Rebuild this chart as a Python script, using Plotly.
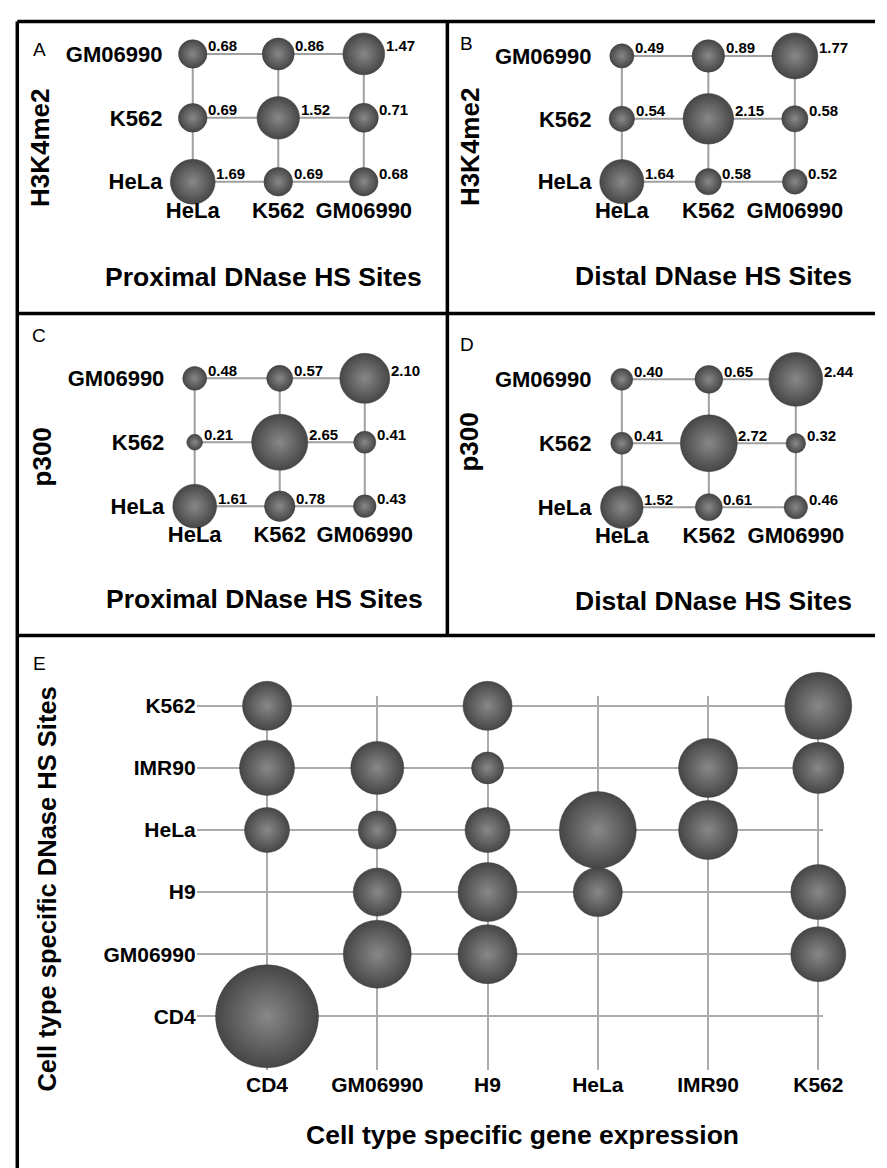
import numpy as np
import plotly.graph_objects as go

W, H = 887, 1168

# ---------------- DATA ----------------
cells3 = ["HeLa", "K562", "GM06990"]  # columns (DNase HS sites) and rows (marks), bottom->top

# values[row][col]; rows: HeLa, K562, GM06990 ; cols: HeLa, K562, GM06990
A_vals = [[1.69, 0.69, 0.68],
          [0.69, 1.52, 0.71],
          [0.68, 0.86, 1.47]]
B_vals = [[1.64, 0.58, 0.52],
          [0.54, 2.15, 0.58],
          [0.49, 0.89, 1.77]]
C_vals = [[1.61, 0.78, 0.43],
          [0.21, 2.65, 0.41],
          [0.48, 0.57, 2.10]]
D_vals = [[1.52, 0.61, 0.46],
          [0.41, 2.72, 0.32],
          [0.40, 0.65, 2.44]]

E_expr_cats = ["CD4", "GM06990", "H9", "HeLa", "IMR90", "K562"]
E_dhs_cats = ["CD4", "GM06990", "H9", "HeLa", "IMR90", "K562"]
E_expr = ["CD4", "CD4", "CD4", "CD4",
          "GM06990", "GM06990", "GM06990", "GM06990",
          "H9", "H9", "H9", "H9", "H9",
          "HeLa", "HeLa",
          "IMR90", "IMR90",
          "K562", "K562", "K562", "K562"]
E_dhs = ["K562", "IMR90", "HeLa", "CD4",
         "IMR90", "HeLa", "H9", "GM06990",
         "K562", "IMR90", "HeLa", "H9", "GM06990",
         "HeLa", "H9",
         "IMR90", "HeLa",
         "K562", "IMR90", "H9", "GM06990"]
E_vals = [2.02, 2.54, 1.70, 8.91,
          2.36, 1.21, 1.94, 3.88,
          2.02, 0.86, 1.70, 2.92, 2.92,
          4.98, 2.02,
          2.92, 2.92,
          3.77, 2.19, 2.54, 2.54]

# ---------------- STYLE ----------------
FONT = "Liberation Sans, Arial, sans-serif"
K = 34.5                       # px diameter per sqrt(value)
SIZEREF = 2.0 / K ** 2         # plotly area mode: diameter = sqrt(2*v/sizeref)
BUB_EDGE = "#464646"
BUB_CENTER = "#888888"
LINE_C = "#a0a0a0"

def fx(x):
    return x / W

def fy(y):
    return 1 - y / H

fig = go.Figure()
annotations = []

panels = [
    ("A", A_vals, 189, 364, 172, 44, "H3K4me2", "Proximal DNase HS Sites", (261.5, 267), (32, 138), (32, 40)),
    ("B", B_vals, 628, 805, 172, 46, "H3K4me2", "Distal DNase HS Sites", (722, 266), (472, 137), (469, 34)),
    ("C", C_vals, 191, 365, 497, 369, "p300", "Proximal DNase HS Sites", (262, 590), (35, 448), (32, 326)),
    ("D", D_vals, 628, 806, 498, 370, "p300", "Distal DNase HS Sites", (722, 592), (472, 433), (470, 335)),
]

layout_axes = {}
for i, (name, vals, c0, c2, rb, rt, ytit, xtit, tpos, ypos, lpos) in enumerate(panels):
    n = i + 1
    xa = "x" if n == 1 else f"x{n}"
    ya = "y" if n == 1 else f"y{n}"
    dx = (c2 - c0) / 2.0
    dy = (rb - rt) / 2.0
    left, right = c0 - 30, c2 + 30
    bottom, top = rb + 13, rt - 26
    layout_axes[f"xaxis{n}"] = dict(
        domain=[fx(left), fx(right)], range=[(left - c0) / dx, 2 + (right - c2) / dx],
        type="category", categoryorder="array", categoryarray=cells3,
        showgrid=False, zeroline=False, showline=False, ticks="",
        tickfont=dict(family=FONT, size=22, color="black", weight="bold"),
        anchor=ya, fixedrange=True)
    layout_axes[f"yaxis{n}"] = dict(
        domain=[fy(bottom), fy(top)], range=[-(bottom - rb) / dy, 2 + (rt - top) / dy],
        type="category", categoryorder="array", categoryarray=cells3,
        showgrid=False, zeroline=False, showline=False, ticks="",
        tickfont=dict(family=FONT, size=22, color="black", weight="bold"),
        anchor=xa, fixedrange=True)
    for r in range(3):
        fig.add_trace(go.Scatter(x=cells3, y=[cells3[r]] * 3, mode="lines",
                                 line=dict(color=LINE_C, width=2), xaxis=xa, yaxis=ya,
                                 hoverinfo="skip", showlegend=False))
    for c in range(3):
        fig.add_trace(go.Scatter(x=[cells3[c]] * 3, y=cells3, mode="lines",
                                 line=dict(color=LINE_C, width=2), xaxis=xa, yaxis=ya,
                                 hoverinfo="skip", showlegend=False))
    xs, ys, vs = [], [], []
    for r in range(3):
        for c in range(3):
            xs.append(cells3[c]); ys.append(cells3[r]); vs.append(vals[r][c])
    fig.add_trace(go.Scatter(
        x=xs, y=ys, mode="markers", xaxis=xa, yaxis=ya, showlegend=False, cliponaxis=False,
        marker=dict(size=vs, sizemode="area", sizeref=SIZEREF, color=BUB_EDGE, opacity=1,
                    gradient=dict(type="radial", color=BUB_CENTER),
                    line=dict(width=0.5, color="#3a3a3a"))))
    for x, y, v in zip(xs, ys, vs):
        rad = K * np.sqrt(v) / 2
        annotations.append(dict(x=x, y=y, xref=xa, yref=ya, text=f"{v:.2f}", showarrow=False,
                                xanchor="left", yanchor="middle", xshift=rad - 1, yshift=8,
                                font=dict(family=FONT, size=15, color="black", weight="bold")))
    annotations.append(dict(x=fx(tpos[0]), y=fy(tpos[1]), xref="paper", yref="paper", text=xtit,
                            showarrow=False, xanchor="center", yanchor="middle",
                            font=dict(family=FONT, size=26.5, color="black", weight="bold")))
    annotations.append(dict(x=fx(ypos[0]), y=fy(ypos[1]), xref="paper", yref="paper", text=ytit,
                            showarrow=False, xanchor="center", yanchor="middle", textangle=-90,
                            font=dict(family=FONT, size=26, color="black", weight="bold")))
    annotations.append(dict(x=fx(lpos[0]), y=fy(lpos[1]), xref="paper", yref="paper", text=name,
                            showarrow=False, xanchor="center", yanchor="middle",
                            font=dict(family=FONT, size=19, color="black")))

# ---------------- PANEL E ----------------
eL, eR, eT, eB = 193, 834, 687, 1062
ec0, ec5 = 265, 829
er0, er5 = 1008, 697
edx = (ec5 - ec0) / 5.0
edy = (er0 - er5) / 5.0
layout_axes["xaxis5"] = dict(
    domain=[fx(eL), fx(eR)], range=[(eL - ec0) / edx, 5 + (eR - ec5) / edx],
    type="category", categoryorder="array", categoryarray=E_expr_cats,
    showgrid=True, gridcolor="#ababab", gridwidth=2, zeroline=False, showline=False, ticks="",
    tickfont=dict(family=FONT, size=21, color="black", weight="bold"), anchor="y5", fixedrange=True)
layout_axes["yaxis5"] = dict(
    domain=[fy(eB), fy(eT)], range=[-(eB - er0) / edy, 5 + (er5 - eT) / edy],
    type="category", categoryorder="array", categoryarray=E_dhs_cats,
    showgrid=True, gridcolor="#ababab", gridwidth=2, zeroline=False, showline=False, ticks="",
    tickfont=dict(family=FONT, size=21, color="black", weight="bold"), anchor="x5", fixedrange=True)

fig.add_trace(go.Scatter(
    x=E_expr, y=E_dhs, mode="markers", xaxis="x5", yaxis="y5", showlegend=False, cliponaxis=False,
    marker=dict(size=E_vals, sizemode="area", sizeref=SIZEREF, color=BUB_EDGE, opacity=1,
                gradient=dict(type="radial", color=BUB_CENTER),
                line=dict(width=0.5, color="#3a3a3a"))))

annotations.append(dict(x=fx(526), y=fy(1127), xref="paper", yref="paper",
                        text="Cell type specific gene expression", showarrow=False,
                        xanchor="center", yanchor="middle",
                        font=dict(family=FONT, size=26.5, color="black", weight="bold")))
annotations.append(dict(x=fx(40), y=fy(881), xref="paper", yref="paper",
                        text="Cell type specific DNase HS Sites", showarrow=False,
                        xanchor="center", yanchor="middle", textangle=-90,
                        font=dict(family=FONT, size=25.5, color="black", weight="bold")))
annotations.append(dict(x=fx(32), y=fy(655), xref="paper", yref="paper", text="E",
                        showarrow=False, xanchor="center", yanchor="middle",
                        font=dict(family=FONT, size=19, color="black")))

# ---------------- BORDERS ----------------
BW = 3.5
shapes = [
    dict(type="line", xref="paper", yref="paper", x0=fx(9.5), x1=fx(9.5), y0=fy(11.5), y1=fy(1168), line=dict(color="black", width=BW)),
    dict(type="line", xref="paper", yref="paper", x0=fx(9.5), x1=fx(887), y0=fy(11.5), y1=fy(11.5), line=dict(color="black", width=BW)),
    dict(type="line", xref="paper", yref="paper", x0=fx(9.5), x1=fx(887), y0=fy(304), y1=fy(304), line=dict(color="black", width=BW)),
    dict(type="line", xref="paper", yref="paper", x0=fx(9.5), x1=fx(887), y0=fy(626.5), y1=fy(626.5), line=dict(color="black", width=BW)),
    dict(type="line", xref="paper", yref="paper", x0=fx(449.5), x1=fx(449.5), y0=fy(11.5), y1=fy(626.5), line=dict(color="black", width=BW)),
]

fig.update_layout(
    width=W, height=H, margin=dict(l=0, r=0, t=0, b=0),
    paper_bgcolor="white", plot_bgcolor="rgba(0,0,0,0)",
    annotations=annotations, shapes=shapes, showlegend=False,
    **layout_axes)

fig.write_html("out.html", config={"displayModeBar": False})
